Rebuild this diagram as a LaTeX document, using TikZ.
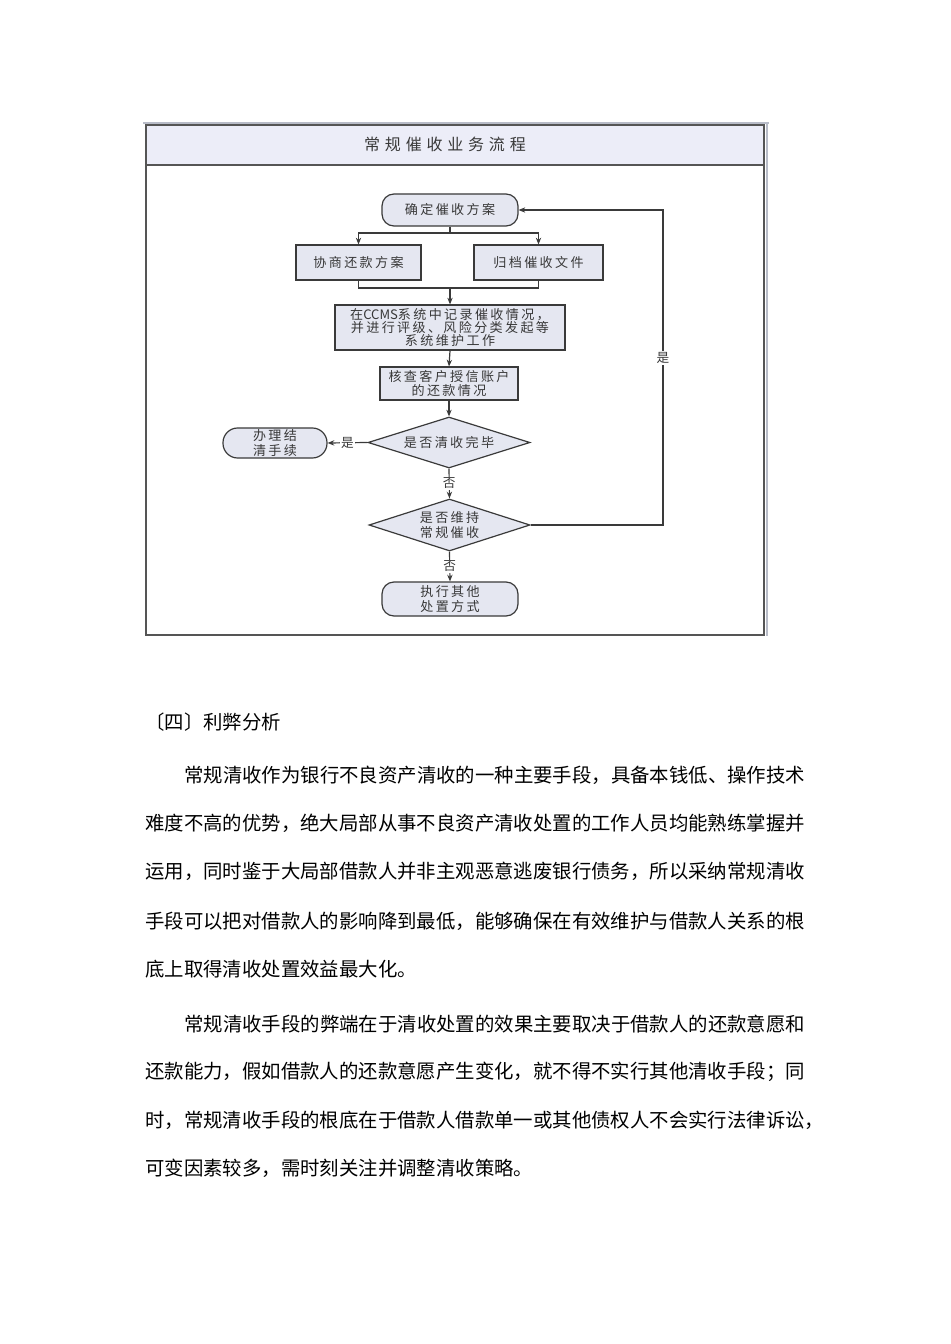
\documentclass[tikz,border=0pt]{standalone}
\usepackage{fontspec}
\usetikzlibrary{shapes.geometric,arrows.meta}
\newfontfamily\cjk{Noto Sans CJK SC}
\newfontfamily\dgf[LetterSpace=18]{Noto Sans CJK SC}
\newfontfamily\ttlf[LetterSpace=30]{Noto Sans CJK SC}
\definecolor{nodefill}{HTML}{E5E7F1}
\definecolor{titlefill}{HTML}{ECEDF8}
\definecolor{linec}{HTML}{3A3A3A}
\definecolor{framec}{HTML}{555555}
\definecolor{textc}{HTML}{383838}
\definecolor{paleline}{HTML}{B8BCC8}
\tikzset{
  box/.style={draw=linec, fill=nodefill, line width=0.9pt, inner sep=0pt, align=center,
    font=\dgf\fontsize{9.8}{11}\selectfont, text=textc},
  proc/.style={box, rectangle},
  term/.style={box, rectangle, rounded corners=9pt},
  dec/.style={box, diamond, aspect=3},
  ln/.style={draw=linec, line width=0.9pt},
  arr/.style={ln, -{Stealth[length=5pt,width=4pt]}},
  lab/.style={fill=white, inner sep=1pt, font=\cjk\fontsize{9.5}{11}\selectfont, text=textc},
  bt/.style={anchor=west, inner sep=0pt, font=\cjk\fontsize{14.55}{14.55}\selectfont, text=black}
}
\begin{document}
\begin{tikzpicture}[x=0.75pt,y=-0.75pt]
\useasboundingbox[fill=white] (0,0) rectangle (950,1344);
% frame
\fill[titlefill] (146,125) rectangle (764,165);
\draw[paleline, line width=0.8pt] (143,123) -- (769,123);
\draw[paleline, line width=0.8pt] (767,123) -- (767,636);
\draw[framec, line width=1.1pt] (146,125) rectangle (764,635);
\draw[framec, line width=1.1pt] (146,165) -- (764,165);
\node[font=\ttlf\fontsize{12}{14}\selectfont, text=textc] (title) at (445,144) {常规催收业务流程};
% nodes
\node[term, minimum width=102pt, minimum height=24pt] (top) at (450,210) {确定催收方案};
\node[proc, minimum width=93.75pt, minimum height=26.25pt] (p1) at (358.5,262.5) {协商还款方案};
\node[proc, minimum width=96.75pt, minimum height=26.25pt] (p2) at (538.5,262.5) {归档催收文件};
\node[proc, minimum width=172.5pt, minimum height=33.75pt,
  font=\dgf\fontsize{9.8}{10}\selectfont] (ccms) at (450,327.5) {在{\cjk CCMS}系统中记录催收情况，\\并进行评级、风险分类发起等\\系统维护工作};
\node[proc, minimum width=103.5pt, minimum height=24.75pt] (chk) at (449,383.5) {核查客户授信账户\\的还款情况};
\node[dec, minimum width=121.5pt, minimum height=38.25pt] (d1) at (449,442.5) {是否清收完毕};
\node[term, rounded corners=11pt, minimum width=78pt, minimum height=22.5pt] (done) at (275,443) {办理结\\清手续};
\node[dec, minimum width=120.75pt, minimum height=39pt] (d2) at (449.5,525) {是否维持\\常规催收};
\node[term, minimum width=102pt, minimum height=25.5pt] (exec) at (450,599) {执行其他\\处置方式};
\coordinate (j1) at (450,233);
\coordinate (j2) at (450,288);
\coordinate (loopc) at (663,525);
% connectors
\draw[ln] (top.south) -- (j1);
\draw[arr] (j1) -| (p1.north);
\draw[arr] (j1) -| (p2.north);
\draw[ln] (p1.south) |- (j2);
\draw[ln] (p2.south) |- (j2);
\draw[arr] (j2) -- (ccms.north);
\draw[arr] (ccms.south) -- (chk.north);
\draw[arr] (chk.south) -- (d1.north);
\draw[arr] (d1.west) -- node[lab]{是} (done.east);
\draw[arr] (d1.south) -- node[lab]{否} (d2.north);
\draw[arr] (d2.south) -- node[lab]{否} (exec.north);
\draw[arr] (d2.east) -- (loopc) |- node[lab, pos=0.265]{是} (top.east);
% body text
\node[bt] (h) at (145,722) {〔四〕利弊分析};
\node[bt] (a1) at (184,775) {常规清收作为银行不良资产清收的一种主要手段，具备本钱低、操作技术};
\node[bt] (a2) at (145,823) {难度不高的优势，绝大局部从事不良资产清收处置的工作人员均能熟练掌握并};
\node[bt] (a3) at (145,871) {运用，同时鉴于大局部借款人并非主观恶意逃废银行债务，所以采纳常规清收};
\node[bt] (a4) at (145,921) {手段可以把对借款人的影响降到最低，能够确保在有效维护与借款人关系的根};
\node[bt] (a5) at (145,969) {底上取得清收处置效益最大化。};
\node[bt] (b1) at (184,1024) {常规清收手段的弊端在于清收处置的效果主要取决于借款人的还款意愿和};
\node[bt] (b2) at (145,1072) {还款能力，假如借款人的还款意愿产生变化，就不得不实行其他清收手段；同};
\node[bt] (b3) at (145,1120) {时，常规清收手段的根底在于借款人借款单一或其他债权人不会实行法律诉讼，};
\node[bt] (b4) at (145,1168) {可变因素较多，需时刻关注并调整清收策略。};
\end{tikzpicture}
\end{document}
